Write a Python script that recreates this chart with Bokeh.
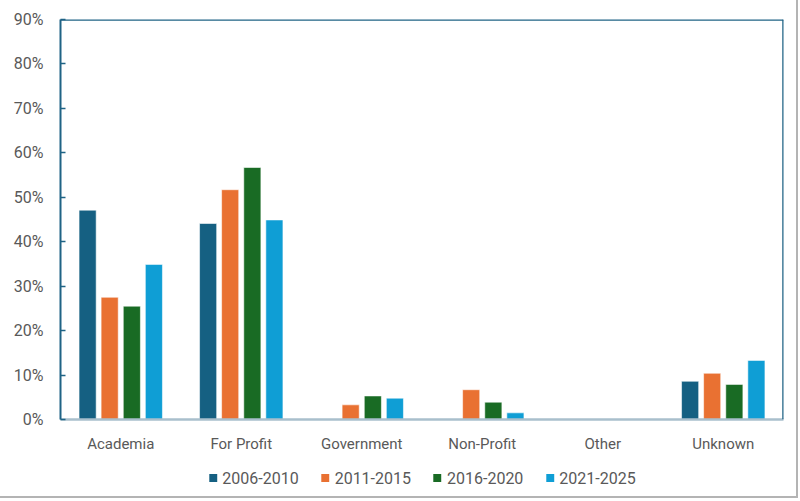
from bokeh.plotting import figure
from bokeh.layouts import column
from bokeh.models import ColumnDataSource, FactorRange, Legend, LegendItem, NumeralTickFormatter, FixedTicker, Span
from bokeh.transform import dodge
from bokeh.embed import file_html
from bokeh.resources import INLINE

categories = ["Academia", "For Profit", "Government", "Non-Profit", "Other", "Unknown"]
series = ["2006-2010", "2011-2015", "2016-2020", "2021-2025"]
v2006 = [0.471, 0.441, 0.0, 0.0, 0.0, 0.086]
v2011 = [0.275, 0.517, 0.033, 0.067, 0.0, 0.104]
v2016 = [0.255, 0.567, 0.053, 0.039, 0.0, 0.079]
v2021 = [0.349, 0.449, 0.048, 0.015, 0.0, 0.133]
y_ticks = [0, 0.1, 0.2, 0.3, 0.4, 0.5, 0.6, 0.7, 0.8, 0.9]
colors = ["#156082", "#E97132", "#196B24", "#0F9ED5"]

src = ColumnDataSource(dict(cat=categories, s0=v2006, s1=v2011, s2=v2016, s3=v2021))

FONT = "Roboto"
TXT = "#595959"
TEAL = "#1F6385"

p = figure(x_range=FactorRange(*categories), y_range=(0, 0.9),
           width=796, height=459, output_backend="svg", toolbar_location=None,
           min_border_left=60, min_border_right=13, min_border_top=19, min_border_bottom=40)

offsets = [-0.275, -0.092, 0.092, 0.275]
cols = ["s0", "s1", "s2", "s3"]
for i, (col, off) in enumerate(zip(cols, offsets)):
    p.vbar(x=dodge("cat", off, range=p.x_range), top=col, width=0.142, source=src,
           fill_color=colors[i], line_color="white", line_width=0.8, line_alpha=0.7)

p.grid.visible = False
p.outline_line_color = None
p.background_fill_color = "white"

# Y axis
p.yaxis.ticker = FixedTicker(ticks=y_ticks)
p.yaxis.formatter = NumeralTickFormatter(format="0%")
p.yaxis.axis_line_color = TEAL
p.yaxis.axis_line_width = 2
p.yaxis.major_tick_line_color = TEAL
p.yaxis.major_tick_line_width = 1.5
p.yaxis.major_tick_in = 5
p.yaxis.major_tick_out = 0
p.yaxis.minor_tick_line_color = None
p.yaxis.major_label_text_font = FONT
p.yaxis.major_label_text_font_size = "16px"
p.yaxis.major_label_text_color = TXT
p.yaxis.major_label_standoff = 17

# X axis
p.xaxis.axis_line_color = "#A9BFCC"
p.xaxis.axis_line_width = 2.5
p.xaxis.major_tick_line_color = None
p.xaxis.minor_tick_line_color = None
p.xaxis.major_label_text_font = FONT
p.xaxis.major_label_text_font_size = "15px"
p.xaxis.major_label_text_color = TXT
p.xaxis.major_label_standoff = 9

# top and right borders of plot area
p.add_layout(Span(location=0.9, dimension="width", line_color=TEAL, line_width=2.5))
p.add_layout(Span(location=len(categories), dimension="height", line_color=TEAL, line_width=2.5))

# legend strip (its renderers use the same data but lie outside the strip's view)
lg = figure(width=796, height=37, output_backend="svg", toolbar_location=None,
            x_range=(0, 1), y_range=(10, 11), x_axis_location=None, y_axis_location=None,
            min_border=0)
lg.grid.visible = False
lg.outline_line_color = None
lrs = [lg.vbar(x=0.5, top=col, width=0.1, source=src, fill_color=c, line_color=None)
       for col, c in zip(cols, colors)]
legend = Legend(items=[LegendItem(label=s, renderers=[r]) for s, r in zip(series, lrs)],
                orientation="horizontal", location="center",
                label_text_font=FONT, label_text_font_size="16px", label_text_color=TXT,
                glyph_width=10, glyph_height=10, label_standoff=5, spacing=21,
                border_line_color=None, background_fill_alpha=0, padding=2, margin=0)
lg.add_layout(legend, "center")

layout = column(p, lg, spacing=0)

html = file_html(layout, INLINE)
html = html.replace("</head>", "<style>.bk-Column {outline: 2px solid #B4B4B4;}</style></head>", 1)
open("out.html", "w").write(html)
